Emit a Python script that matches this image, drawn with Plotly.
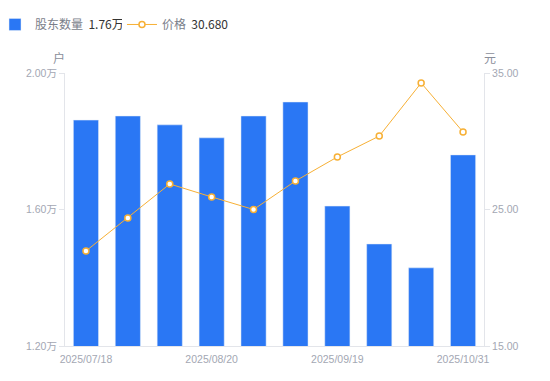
import plotly.graph_objects as go

dates = ["2025/07/18", "2025/07/31", "2025/08/08", "2025/08/20", "2025/08/29",
         "2025/09/10", "2025/09/19", "2025/09/30", "2025/10/20", "2025/10/31"]
holders = [1.862, 1.874, 1.848, 1.810, 1.874, 1.915, 1.610, 1.499, 1.429, 1.760]
price = [21.96, 24.38, 26.87, 25.92, 25.00, 27.09, 28.85, 30.38, 34.27, 30.68]
x_tick_labels = ["2025/07/18", "2025/08/20", "2025/09/19", "2025/10/31"]
left_ticks = [1.2, 1.6, 2.0]
right_ticks = [15, 25, 35]

idx = list(range(len(dates)))
x_tick_pos = [dates.index(d) for d in x_tick_labels]
font = "Noto Sans CJK SC, Noto Sans, sans-serif"
tick_font_family = "Liberation Sans, Noto Sans CJK SC, sans-serif"
axis_col = "#E3E5EA"
tick_col = "#A3A7B3"

fig = go.Figure()
fig.add_trace(go.Bar(
    x=idx, y=holders, yaxis="y", marker_color="#2A77F4",
    name="股东数量  <span style='color:#333333'>1.76万</span>",
    customdata=dates, legend="legend",
))
fig.add_trace(go.Scatter(
    x=idx, y=price, yaxis="y2", mode="lines+markers",
    line=dict(color="#F7B035", width=1),
    marker=dict(size=6, color="white", line=dict(color="#F7B035", width=1.5)),
    name="价格  <span style='color:#333333'>30.680</span>",
    legend="legend2",
))

legend_font = dict(family=font, size=12, color="#7A7E8A")
tick_font = dict(family=tick_font_family, size=10.5, color=tick_col)
fig.update_layout(
    width=550, height=381,
    margin=dict(l=65, r=66, t=73, b=35, autoexpand=False),
    paper_bgcolor="white", plot_bgcolor="white",
    font=dict(family=font, size=12, color="#666666"),
    bargap=0.4,
    showlegend=True,
    legend=dict(orientation="h", x=-0.167, y=0.9738, xref="paper", yref="container",
                xanchor="left", yanchor="top", font=legend_font, itemwidth=30),
    legend2=dict(orientation="h", x=0.136, y=0.9738, xref="paper", yref="container",
                 xanchor="left", yanchor="top", font=legend_font, itemwidth=30),
    xaxis=dict(range=[-0.5, 9.5], tickmode="array", tickvals=x_tick_pos,
               ticktext=x_tick_labels, showgrid=False, zeroline=False,
               showline=True, linecolor=axis_col, linewidth=1, ticks="",
               ticklabelstandoff=3, tickfont=tick_font),
    yaxis=dict(range=[1.2, 2.0], tickmode="array", tickvals=left_ticks,
               ticktext=[f"{v:.2f}万" for v in left_ticks], showgrid=False,
               zeroline=False, showline=True, linecolor=axis_col, linewidth=1,
               ticks="outside", ticklen=5, tickcolor=axis_col, tickfont=tick_font),
    yaxis2=dict(range=[15, 35], overlaying="y", side="right", tickmode="array",
                tickvals=right_ticks, ticktext=[f"{v:.2f}" for v in right_ticks],
                showgrid=False, zeroline=False, showline=True, linecolor=axis_col,
                linewidth=1, ticks="outside", ticklen=5, tickcolor=axis_col,
                tickfont=tick_font),
    annotations=[
        dict(text="户", xref="paper", yref="paper", x=0, y=1, xshift=-6, yshift=16,
             showarrow=False, font=dict(size=12, color="#8A8E9A"), xanchor="center", yanchor="middle"),
        dict(text="元", xref="paper", yref="paper", x=1, y=1, xshift=6, yshift=16,
             showarrow=False, font=dict(size=12, color="#8A8E9A"), xanchor="center", yanchor="middle"),
    ],
)

fig.write_html("out.html", config={"displayModeBar": False},
               post_script="document.body.style.margin='0px';")
